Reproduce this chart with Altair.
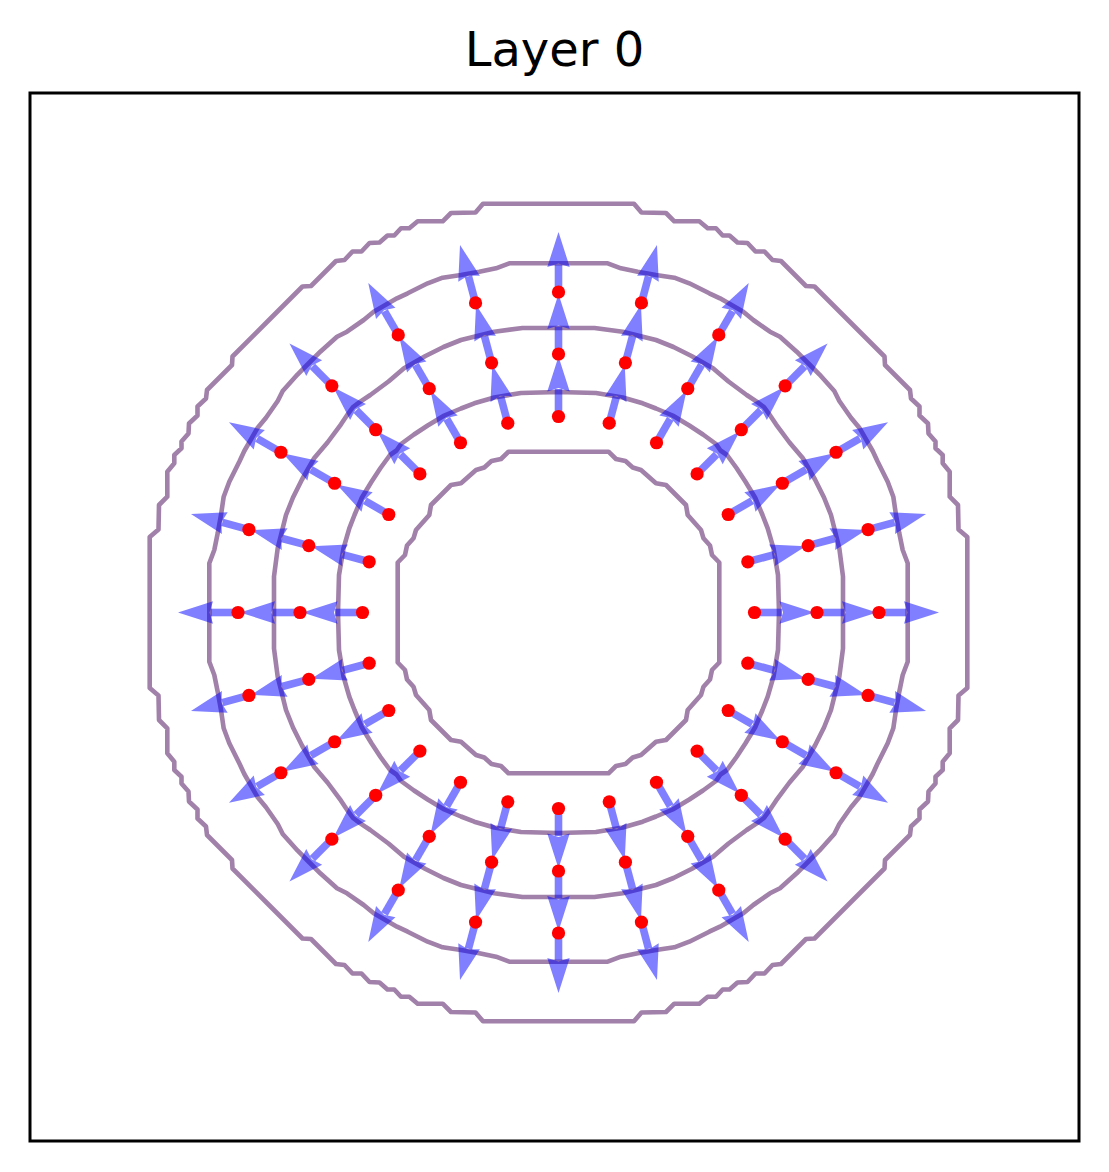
import math
import altair as alt
import pandas as pd

# ---------------- data ----------------
TITLE = "Layer 0"

# polar sample grid (dots) and outward unit vectors (arrows)
ANGLES_DEG = [0, 15, 30, 45, 60, 75, 90, 105, 120, 135, 150, 165,
              180, 195, 210, 225, 240, 255, 270, 285, 300, 315, 330, 345]
RADII = [196.0, 258.5, 320.5]
ARROW_LEN = 60.0
HEAD_LEN = 35.0

# contour traces: one octant each (from the top axis down to the 45 deg diagonal)
C1_X = [0, 50, 57.5, 67, 74.2, 82.5, 97.5, 107.5, 117.5]
C1_Y = [160.8, 160.8, 153.5, 151.5, 145, 142.5, 129.2, 127.5, 117.5]

C2_X = [0, 37.5, 64.2, 84.2, 97.5, 114.2, 130.8, 144.5, 157.5, 162]
C2_Y = [220.5, 219.5, 215, 209.2, 204, 197, 187, 178, 168.5, 162]

C3_X = [0, 36, 64.2, 97.5, 115, 133, 154.5, 170, 188.2, 198.2, 205.5]
C3_Y = [284.5, 284.5, 280.8, 272.5, 265.5, 256.5, 244.2, 231, 217.5, 210.8, 205.5]

C4_X = [0, 49.2, 62.5, 79.2, 97.5, 115.8, 130.8, 150.8, 161.5, 184.8, 194.8,
        211.5, 221.5, 238.2, 249.5]
C4_Y = [349.2, 349.2, 344.2, 340.8, 337.5, 334.8, 329.2, 319.2, 314.2, 300.8,
        292.5, 280.8, 275.8, 260.8, 249.5]

C5_X = [0, 75.5, 83, 107.5, 115.8, 140.8, 149.2, 157.5, 164.2, 171, 179, 189,
        197, 206, 214, 222.5, 247.5, 256, 291]
C5_Y = [408.8, 408.8, 400, 399.5, 391.2, 391.2, 384.2, 384.2, 377, 377, 370,
        369.5, 361, 361, 352.5, 351.5, 326.5, 326, 291]

CONTOURS = [(C1_X, C1_Y), (C2_X, C2_Y), (C3_X, C3_Y), (C4_X, C4_Y), (C5_X, C5_Y)]

X_DOMAIN = [-528.5, 520.5]
Y_DOMAIN = [-528.5, 519.5]


def full_path(xs, ys):
    pts = list(zip(xs, ys))
    q1 = pts + [(y, x) for (x, y) in reversed(pts[:-1])]
    q4 = [(x, -y) for (x, y) in reversed(q1)][1:]
    right = q1 + q4
    left = [(-x, y) for (x, y) in reversed(right)][1:]
    return right + left


rows = []
for cid, (xs, ys) in enumerate(CONTOURS):
    for i, (x, y) in enumerate(full_path(xs, ys)):
        rows.append({"cid": cid, "i": i, "x": x, "y": y})
contour_df = pd.DataFrame(rows)

dots, shafts, heads = [], [], []
for r in RADII:
    for a in ANGLES_DEG:
        c, s = math.cos(math.radians(a)), math.sin(math.radians(a))
        dots.append({"x": r * c, "y": r * s})
        r_end = r + ARROW_LEN - HEAD_LEN + 2.5
        shafts.append({"x": r * c, "y": r * s, "x2": r_end * c, "y2": r_end * s})
        rc = r + ARROW_LEN - HEAD_LEN / 2
        heads.append({"x": rc * c, "y": rc * s, "ang": (90 - a) % 360})
dots_df = pd.DataFrame(dots)
shafts_df = pd.DataFrame(shafts)
heads_df = pd.DataFrame(heads)

xs = alt.Scale(domain=X_DOMAIN, nice=False, zero=False)
ys = alt.Scale(domain=Y_DOMAIN, nice=False, zero=False)

contours = alt.Chart(contour_df).mark_line(
    color="#440154", opacity=0.5, strokeWidth=4.6, strokeJoin="round"
).encode(
    x=alt.X("x:Q", scale=xs, axis=None),
    y=alt.Y("y:Q", scale=ys, axis=None),
    detail="cid:N",
    order="i:Q",
)

shaft_layer = alt.Chart(shafts_df).mark_rule(
    color="#0000ff", opacity=0.5, strokeWidth=7.6, strokeCap="butt"
).encode(
    x=alt.X("x:Q", scale=xs, axis=None),
    y=alt.Y("y:Q", scale=ys, axis=None),
    x2="x2:Q",
    y2="y2:Q",
)

head_layer = alt.Chart(heads_df).mark_point(
    shape="M0,-1 L0.64,1 L0,0.8 L-0.64,1 Z",
    filled=True, color="#0000ff", opacity=0.5, size=HEAD_LEN * HEAD_LEN,
    strokeWidth=0,
).encode(
    x=alt.X("x:Q", scale=xs, axis=None),
    y=alt.Y("y:Q", scale=ys, axis=None),
    angle=alt.Angle("ang:Q", scale=None),
)

dot_layer = alt.Chart(dots_df).mark_circle(
    color="#ff0000", opacity=1, size=175
).encode(
    x=alt.X("x:Q", scale=xs, axis=None),
    y=alt.Y("y:Q", scale=ys, axis=None),
)

chart = alt.layer(contours, shaft_layer, head_layer, dot_layer).properties(
    width=1049,
    height=1048,
    title=alt.TitleParams(
        TITLE, fontSize=48, font="DejaVu Sans", fontWeight="normal",
        color="black", anchor="middle", offset=26, baseline="alphabetic",
        dy=47,
    ),
    padding={"left": 22, "top": 85, "right": 10, "bottom": 10},
    autosize="none",
).configure_view(stroke="black", strokeWidth=3)

chart.save("out.html", embed_options={"renderer": "svg", "actions": False})
